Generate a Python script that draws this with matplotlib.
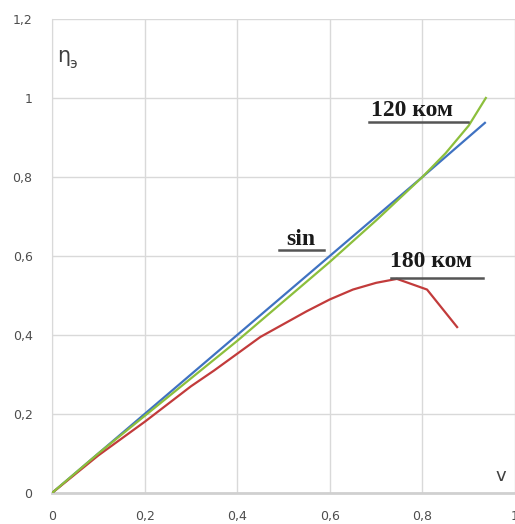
import matplotlib
matplotlib.use('Agg')
import matplotlib.pyplot as plt
from matplotlib.ticker import FuncFormatter

# curves
v_sin = [0.0, 0.2, 0.4, 0.6, 0.8, 0.935]
eta_sin = [0.0, 0.2, 0.4, 0.6, 0.8, 0.937]

v_120 = [0.0, 0.1, 0.2, 0.3, 0.4, 0.5, 0.6, 0.7, 0.8, 0.85, 0.9, 0.937]
eta_120 = [0.0, 0.1, 0.195, 0.29, 0.385, 0.485, 0.585, 0.69, 0.8, 0.86, 0.93, 1.0]

v_180 = [0.0, 0.1, 0.2, 0.3, 0.35, 0.45, 0.55, 0.6, 0.65, 0.7, 0.745, 0.81, 0.875]
eta_180 = [0.0, 0.095, 0.18, 0.27, 0.31, 0.395, 0.46, 0.49, 0.515, 0.532, 0.542, 0.515, 0.42]

x_ticks = [0, 0.2, 0.4, 0.6, 0.8, 1.0]
y_ticks = [0, 0.2, 0.4, 0.6, 0.8, 1.0, 1.2]

fig = plt.figure(figsize=(5.15, 5.24), dpi=100)
ax = fig.add_axes([0.101, 0.0592, 0.899, 0.9046])

ax.plot(v_sin, eta_sin, color='#3f72c2', lw=1.6, zorder=3)
ax.plot(v_120, eta_120, color='#8cbf3c', lw=1.6, zorder=4)
ax.plot(v_180, eta_180, color='#c23b3b', lw=1.6, zorder=3)

ax.set_xlim(0, 1.0)
ax.set_ylim(0, 1.2)
ax.set_xticks(x_ticks)
ax.set_yticks(y_ticks)

def comma(val, pos):
    s = ('%.1f' % val).rstrip('0').rstrip('.')
    return s.replace('.', ',')

ax.xaxis.set_major_formatter(FuncFormatter(comma))
ax.yaxis.set_major_formatter(FuncFormatter(comma))
ax.tick_params(length=0, labelsize=9, labelcolor='#4d4d4d', pad=12)
ax.tick_params(axis='y', pad=14)

ax.grid(True, color='#d9d9d9', lw=1.0)
ax.set_axisbelow(True)
for side in ['top', 'right']:
    ax.spines[side].set_visible(False)
ax.spines['left'].set_color('#d9d9d9')
ax.spines['bottom'].set_color('#d0d0d0')
ax.spines['bottom'].set_linewidth(2)

# curve labels with underline leaders
serif = dict(family='Liberation Serif', fontsize=17, fontweight='bold', color='#1a1a1a')
ax.text(0.69, 0.954, '120 ком', **serif)
ax.plot([0.684, 0.899], [0.939, 0.939], color='#555555', lw=1.8, zorder=5)
ax.text(0.506, 0.628, 'sin', **serif)
ax.plot([0.49, 0.587], [0.615, 0.615], color='#555555', lw=1.8, zorder=5)
ax.text(0.731, 0.572, '180 ком', **serif)
ax.plot([0.733, 0.931], [0.544, 0.544], color='#555555', lw=1.8, zorder=5)

# axis names
ax.text(0.01, 1.09, 'η', fontsize=15, color='#404040')
ax.text(0.038, 1.075, 'э', fontsize=10, color='#404040')
ax.text(0.958, 0.03, 'v', fontsize=13, color='#404040')

fig.savefig('out.png', dpi=100)
